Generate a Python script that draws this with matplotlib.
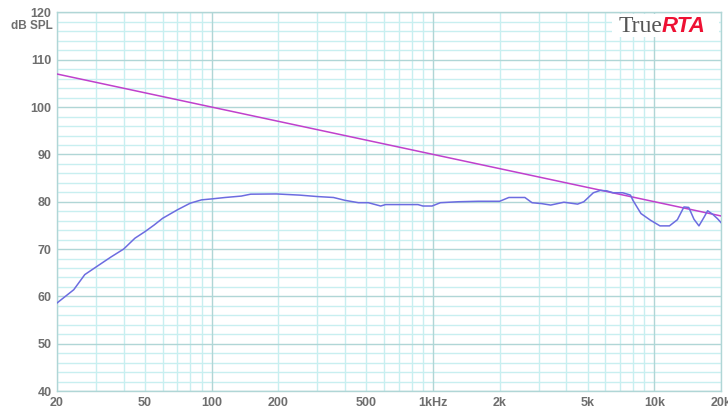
import numpy as np
import matplotlib
matplotlib.use("Agg")
from matplotlib import pyplot as plt
from matplotlib.patches import Rectangle

# measured response (Hz, dB SPL)
freq = [20, 23.8, 26.7, 30, 35, 40, 45, 50, 55, 60, 70, 80, 90, 100, 115, 136,
        150, 196, 250, 300, 355, 400, 460, 510, 580, 610, 855, 900, 990, 1080,
        1300, 1600, 2000, 2200, 2600, 2800, 3100, 3400, 3900, 4500, 4800, 5300,
        5700, 6100, 6500, 7200, 7800, 8000, 8700, 9600, 10600, 11700, 12700,
        13600, 14300, 15100, 15900, 16800, 17400, 18400, 19300, 20000]
spl = [58.6, 61.4, 64.6, 66.2, 68.3, 70.0, 72.3, 73.7, 75.1, 76.5, 78.3, 79.7,
       80.4, 80.6, 80.9, 81.2, 81.6, 81.65, 81.4, 81.1, 80.9, 80.3, 79.8, 79.8,
       79.1, 79.4, 79.4, 79.1, 79.1, 79.8, 80.0, 80.1, 80.1, 80.9, 80.9, 79.8,
       79.6, 79.3, 79.9, 79.5, 80.0, 81.9, 82.4, 82.3, 81.9, 81.9, 81.4, 80.3,
       77.5, 76.1, 74.9, 74.9, 76.2, 78.9, 78.8, 76.3, 74.9, 76.8, 78.1, 77.3,
       76.4, 75.6]

# reference slope line
ref_freq = [20, 20000]
ref_spl = [107, 77]

xtick_vals = [20, 50, 100, 200, 500, 1000, 2000, 5000, 10000, 20000]
xtick_labels = ["20", "50", "100", "200", "500", "1kHz", "2k", "5k", "10k", "20k"]
ytick_vals = [40, 50, 60, 70, 80, 90, 100, 110, 120]

minor_col = "#c8eff0"
major_col = "#b0d6d6"
text_col = "#6e6e6e"

plt.rcParams['font.family'] = ['Liberation Sans', 'DejaVu Sans']

fig = plt.figure(figsize=(7.28, 4.11), dpi=100)
ax = fig.add_axes([57 / 728, 20 / 411, 664 / 728, 378.5 / 411])

ax.set_xscale('log')
ax.set_xlim(20, 20000)
ax.set_ylim(40, 120)

# grid
grid_f = [m * 10 ** d for d in range(1, 5) for m in range(1, 10)]
grid_f = [f for f in grid_f if 20 <= f <= 20000]
for f in grid_f:
    if f in (100, 1000, 10000):
        continue
    ax.axvline(f, color=minor_col, lw=1, zorder=1)
for db in range(40, 121, 2):
    if db % 10:
        ax.axhline(db, color=minor_col, lw=1, zorder=1)
for db in ytick_vals:
    ax.axhline(db, color=major_col, lw=1, zorder=1.5)
for f in (100, 1000, 10000):
    ax.axvline(f, color=major_col, lw=1, zorder=1.5)

ax.plot(ref_freq, ref_spl, color="#c040cc", lw=1.1, zorder=3)
ax.plot(freq, spl, color="#6c6ce0", lw=1.1, zorder=4)

ax.set_xticks(xtick_vals)
ax.set_xticklabels(xtick_labels)
ax.xaxis.set_minor_locator(matplotlib.ticker.NullLocator())
ax.set_yticks(ytick_vals)
ax.tick_params(length=0, labelsize=9, labelcolor=text_col, pad=4)
for lbl in ax.get_xticklabels() + ax.get_yticklabels():
    lbl.set_fontweight('bold')
for sp in ax.spines.values():
    sp.set_color(major_col)
    sp.set_linewidth(1)

fig.text(53 / 728, 1 - 26 / 411, "dB SPL", ha='right', va='center',
         fontsize=8.5, color=text_col, fontweight='bold')

# logo
fig.patches.append(Rectangle((612 / 728, 1 - 37 / 411), 107 / 728, 23 / 411,
                             transform=fig.transFigure, facecolor='white',
                             edgecolor='none', zorder=5))
fig.text(662 / 728, 1 - 27 / 411, "True", ha='right', va='center',
         fontsize=17, color="#555555", family='Liberation Serif', zorder=6)
fig.text(662 / 728, 1 - 27 / 411, "RTA", ha='left', va='center',
         fontsize=16, color="#ee1133", fontweight='bold', style='italic', zorder=6)

fig.savefig("out.png", dpi=100, facecolor='white')
